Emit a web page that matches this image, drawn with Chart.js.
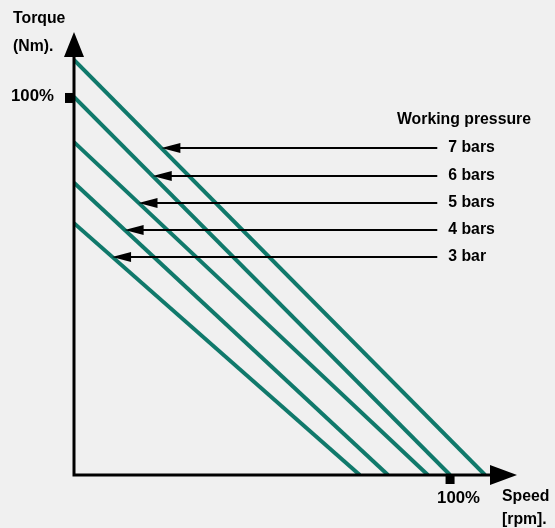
<!DOCTYPE html>
<html>
<head>
<meta charset="utf-8">
<script src="https://cdn.jsdelivr.net/npm/chart.js@4.4.1/dist/chart.umd.min.js"></script>
<style>
  html, body { margin: 0; padding: 0; background: #f0f0f0; }
  #wrap { width: 555px; height: 528px; position: relative; }
</style>
</head>
<body>
<div id="wrap"><canvas id="c"></canvas></div>
<script>
// ---- data (percent of nominal) ----
const pressures     = ['7 bars', '6 bars', '5 bars', '4 bars', '3 bar'];
const torqueAtZero  = [110.1, 100.3, 88.3, 77.5, 66.8];   // torque % at zero speed
const speedAtZero   = [109.3, 100.0, 94.1, 83.5, 76.0];   // speed % at zero torque
const arrowTorque   = [86.7, 79.3, 72.2, 65.0, 57.9];     // torque level of each label arrow
const arrowTailSpeed = 96.6;                               // speed where label arrows start
const tickLabelX = '100%';
const tickLabelY = '100%';
const tickValue = 100;
const axisMaxX = 117.8;
const axisMaxY = 117.5;
const titleY = ['Torque', '(Nm).'];
const titleX = ['Speed', '[rpm].'];
const legendTitle = 'Working pressure';

const GREEN = '#10796b';
const FONT = 'bold 15.8px "Liberation Sans", Arial, sans-serif';
const FONT_TICK = 'bold 16.8px "Liberation Sans", Arial, sans-serif';

const datasets = pressures.map((p, i) => ({
  label: p,
  data: [{x: 0, y: torqueAtZero[i]}, {x: speedAtZero[i], y: 0}],
  showLine: true,
  borderColor: GREEN,
  borderWidth: 4,
  pointRadius: 0,
  fill: false,
  clip: 0,
  borderCapStyle: 'butt'
}));

const overlay = {
  id: 'overlay',
  beforeDraw(chart) {
    const ctx = chart.ctx;
    ctx.save();
    ctx.fillStyle = '#f0f0f0';
    ctx.fillRect(0, 0, chart.width, chart.height);
    ctx.restore();
  },
  afterDatasetsDraw(chart) {
    const ctx = chart.ctx;
    const xs = chart.scales.x, ys = chart.scales.y;
    const x0 = xs.getPixelForValue(0), y0 = ys.getPixelForValue(0);
    const xEnd = xs.getPixelForValue(axisMaxX), yEnd = ys.getPixelForValue(axisMaxY);
    ctx.save();
    // axes
    ctx.strokeStyle = '#000';
    ctx.fillStyle = '#000';
    ctx.lineWidth = 3;
    ctx.lineCap = 'butt';
    ctx.beginPath();
    ctx.moveTo(x0, y0 + 1.5);
    ctx.lineTo(x0, yEnd + 24);
    ctx.moveTo(x0 - 1.5, y0);
    ctx.lineTo(xEnd - 26, y0);
    ctx.stroke();
    // arrowheads
    ctx.beginPath();
    ctx.moveTo(x0, yEnd);
    ctx.lineTo(x0 - 10, yEnd + 25);
    ctx.lineTo(x0 + 10, yEnd + 25);
    ctx.closePath();
    ctx.fill();
    ctx.beginPath();
    ctx.moveTo(xEnd, y0);
    ctx.lineTo(xEnd - 27, y0 - 10);
    ctx.lineTo(xEnd - 27, y0 + 10);
    ctx.closePath();
    ctx.fill();
    // 100% markers
    const ty = ys.getPixelForValue(tickValue);
    ctx.fillRect(x0 - 9, ty - 5, 10, 10);
    const tx = xs.getPixelForValue(tickValue);
    ctx.fillRect(tx - 4.5, y0 - 1, 9, 10);

    // label arrows
    ctx.lineWidth = 2;
    const tailX = xs.getPixelForValue(arrowTailSpeed);
    ctx.font = FONT;
    ctx.textBaseline = 'alphabetic';
    ctx.textAlign = 'left';
    pressures.forEach((p, i) => {
      const yv = arrowTorque[i];
      const tipV = speedAtZero[i] * (1 - yv / torqueAtZero[i]);
      const tipX = xs.getPixelForValue(tipV);
      const py = Math.round(ys.getPixelForValue(yv));
      ctx.beginPath();
      ctx.moveTo(tailX, py);
      ctx.lineTo(tipX + 16, py);
      ctx.stroke();
      ctx.beginPath();
      ctx.moveTo(tipX, py);
      ctx.lineTo(tipX + 19, py - 5);
      ctx.lineTo(tipX + 19, py + 5);
      ctx.closePath();
      ctx.fill();
      ctx.fillText(p, tailX + 11, py + 4);
    });
    ctx.fillText(legendTitle, 397, 124);

    // axis titles / tick labels
    ctx.fillText(titleY[0], 13, 23);
    ctx.fillText(titleY[1], 13, 51);
    ctx.fillText(titleX[0], 502, 501);
    ctx.fillText(titleX[1], 502, 524);
    ctx.font = FONT_TICK;
    ctx.fillText(tickLabelY, 11, ty + 3);
    ctx.fillText(tickLabelX, tx - 13, 503);
    ctx.restore();
  }
};

new Chart(document.getElementById('c'), {
  type: 'scatter',
  data: { datasets },
  options: {
    responsive: true,
    maintainAspectRatio: false,
    animation: false,
    events: [],
    layout: { padding: { left: 74, right: 38, top: 32, bottom: 53 } },
    plugins: { legend: { display: false }, tooltip: { enabled: false } },
    scales: {
      x: { type: 'linear', min: 0, max: axisMaxX, display: false },
      y: { type: 'linear', min: 0, max: axisMaxY, display: false }
    }
  },
  plugins: [overlay]
});
</script>
</body>
</html>
